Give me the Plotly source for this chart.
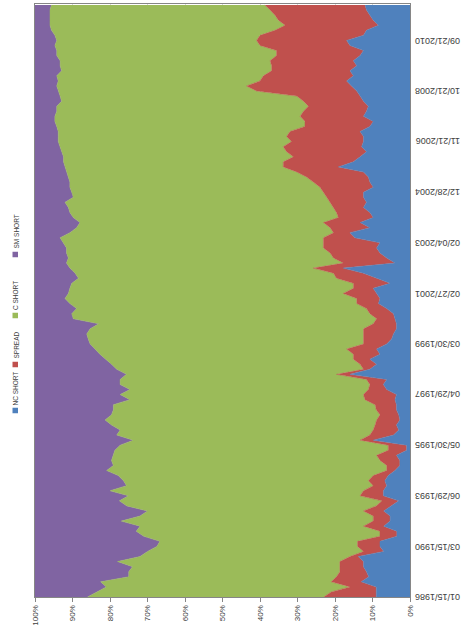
import plotly.graph_objects as go

# Category positions (every 10th weekly observation, bottom = oldest)
obs_index = list(range(0, 1180, 10))

nc_short = [9, 9, 9, 13, 11, 11.6, 12.4, 12.4, 13.8, 7, 8, 8, 3.5, 3.5, 7, 5.3, 5.3, 7, 5, 3,
            7.1, 7.1, 6.2, 6.7, 5.8, 4, 2.7, 2.7, 3.6, 0.9, 0.9, 9.8, 4.4, 3, 3.6, 2.7, 3, 3.6, 3.6,
            4, 3.6, 6.2, 7.1, 6.2, 16, 10.7, 8.9, 10.7, 8, 8.9, 6.2, 4.9, 4.4, 3.6, 3.6, 4, 4.4, 6.2, 8.4,
            8, 8.9, 9.8, 5.3, 8.9, 12.4, 17.8, 4, 6.2, 8, 8.9, 8, 14.7, 16, 10.7, 13.3, 9.8, 10.7, 12.4, 11.6,
            12.4, 12.4, 9.8, 10.7, 11.1, 12.4, 19.1, 15.1, 13.3, 11.6, 12.9, 12.4, 12.4, 13.3, 10.7, 9.8, 12.4, 11.6, 11.1, 12.4,
            13.3, 14.2, 15.6, 16.9, 15.1, 16, 14.2, 15.1, 13.3, 12.4, 16, 16.9, 12.4, 11.6, 8.4, 9.8, 10.7, 11.6, 12]
spread = [14, 12, 7, 8, 8.6, 7.1, 6.3, 6.3, 2.2, 5.4, 6, 6, 4.5, 4.5, 5.4, 4.5, 4.5, 5.4, 4, 4.5,
          6.2, 5.3, 3.6, 4.4, 4, 2.2, 3.5, 5.3, 5.3, 4.9, 4.9, 3.5, 6.3, 6.8, 5.7, 6.2, 5, 5.4, 5.7,
          8, 8.8, 4.9, 3.6, 5.4, 3.6, 1.7, 4.4, 4.4, 7.1, 8, 6.2, 7.5, 8, 8.8, 6.2, 4.9, 6.3, 5.4, 5.8,
          6.2, 8.9, 5.3, 9.8, 10.7, 8, 8, 13.8, 14.2, 13.3, 14.2, 15.1, 8.4, 4.4, 10.6, 9.8, 9.3, 8.9, 8, 9.7,
          9.8, 10.7, 14.2, 15.1, 16.5, 17.8, 14.7, 18.7, 17.8, 21.3, 20.9, 19.2, 20.5, 18.7, 17.3, 18.2, 16.9, 16.8, 16, 16,
          16.9, 26.7, 28, 23.1, 24, 20.9, 22.7, 22.2, 22.3, 23.2, 24, 24, 27.6, 24.4, 24.9, 25.3, 25.3, 25.7, 26.7]
c_short = [63, 62.5, 65, 61.5, 55.4, 56.3, 55.3, 59.3, 56, 57.6, 53.5, 52.7, 63, 65, 59.6, 67.2, 62.2, 57.6, 66.5, 70,
           61.8, 67.6, 65.8, 65.3, 68, 74.7, 72.9, 71.6, 70.2, 72.9, 71.5, 60.5, 67.5, 67.5, 70.3, 72.4, 71.6, 70.1, 69.8,
           62.7, 64.9, 63.6, 66.6, 65.7, 56, 65.8, 66.3, 66.2, 67.6, 67.1, 72.9, 73.4, 73.8, 72.9, 73.2, 80.9, 79.5, 77.3, 76.5,
           77.8, 73.3, 75.6, 75.1, 68.8, 68.9, 64.9, 73.8, 70.7, 70.3, 68.5, 69.3, 70.2, 70.3, 67.6, 64.9, 70.7, 71.1, 70.7, 70.7,
           67.6, 67.1, 66.7, 64.9, 63.5, 61.4, 58.2, 58.6, 61.3, 60, 59.5, 62.2, 60.9, 61.8, 66.2, 66.7, 65.4, 65.8, 67.1, 64.5,
           63.1, 52.9, 50.6, 53.8, 55.1, 56, 56.4, 56, 58.6, 58.6, 54.7, 53.3, 54.7, 59.6, 62.7, 60.9, 60, 58.7, 56.9]
sm_short = [14, 16.5, 19, 17.5, 25, 25, 26, 22, 28, 30, 32.5, 33.3, 29, 27, 28, 23, 28, 30, 24.5, 22.5,
            24.9, 20, 24.4, 23.6, 22.2, 19.1, 20.9, 20.4, 20.9, 21.3, 22.7, 26.2, 21.8, 22.7, 20.4, 18.7, 20.4, 20.9, 20.9,
            25.3, 22.7, 25.3, 22.7, 22.7, 24.4, 21.8, 20.4, 18.7, 17.3, 16, 14.7, 14.2, 13.8, 14.7, 17, 10.2, 9.8, 11.1, 9.3,
            8, 8.9, 9.3, 9.8, 11.6, 10.7, 9.3, 8.4, 8.9, 8.4, 8.4, 7.6, 6.7, 9.3, 11.1, 12, 10.2, 9.3, 8.9, 8,
            10.2, 9.8, 9.3, 9.3, 8.9, 8.4, 8, 7.6, 7.6, 7.1, 6.7, 6.2, 6.2, 6.2, 5.8, 5.3, 5.3, 5.8, 5.8, 7.1,
            6.7, 6.2, 5.8, 6.2, 5.8, 7.1, 6.7, 6.7, 5.8, 5.8, 5.3, 5.8, 5.3, 4.4, 4, 4, 4, 4, 4.4]

date_tick_pos = [0, 100, 200, 300, 400, 500, 600, 700, 800, 900, 1000, 1100]
date_tick_labels = ["01/15/1986", "03/15/1990", "06/29/1993", "05/30/1995", "04/29/1997", "03/30/1999",
                    "02/27/2001", "02/04/2003", "12/28/2004", "11/21/2006", "10/21/2008", "09/21/2010"]
pct_ticks = [0, 10, 20, 30, 40, 50, 60, 70, 80, 90, 100]
pct_labels = [f"{v}%" for v in pct_ticks]

series = [("NC SHORT", nc_short, "#4F81BD"),
          ("SPREAD", spread, "#C0504D"),
          ("C SHORT", c_short, "#9BBB59"),
          ("SM SHORT", sm_short, "#8064A2")]

fig = go.Figure()
for name, vals, col in series:
    fig.add_trace(go.Scatter(x=vals, y=obs_index, name=name, mode="lines",
                             stackgroup="one", orientation="h", groupnorm="percent",
                             line=dict(width=0.5, color=col), fillcolor=col,
                             showlegend=False, hoverinfo="skip"))

W, H = 462, 625
L, R, T, B = 35, 52, 4, 28
pw, ph = W - L - R, H - T - B
TXT = "#404040"

fig.update_layout(
    width=W, height=H,
    margin=dict(l=L, r=R, t=T, b=B, autoexpand=False),
    paper_bgcolor="white", plot_bgcolor="white",
    font=dict(family="Liberation Sans, Arial, sans-serif", size=8, color=TXT),
)
fig.update_xaxes(range=[100, 0], tickvals=pct_ticks, ticktext=pct_labels, tickangle=-90,
                 ticks="outside", ticklen=4, tickcolor="#868686", automargin=False,
                 tickfont=dict(size=8, color=TXT),
                 showline=True, linecolor="#868686", mirror=True,
                 showgrid=True, gridcolor="#D9D9D9", zeroline=False)
fig.update_yaxes(range=[0, 1172], tickvals=date_tick_pos, showticklabels=False,
                 side="right", ticks="", automargin=False,
                 showline=True, linecolor="#868686", mirror=True,
                 showgrid=False, zeroline=False)

# Date category labels, upside down to the right of the 0% axis
for pos, lab in zip(date_tick_pos, date_tick_labels):
    fig.add_annotation(text=lab, xref="paper", yref="y", x=(437.5 - L) / pw, y=pos,
                       textangle=180, xanchor="center", yanchor="middle", showarrow=False,
                       font=dict(size=9, color=TXT))

# Legend drawn as rotated text (reads bottom-to-top) with colour swatches
legend_marker_y = [410.5, 364.5, 315.5, 254.5]
legend_text_y = [389, 345, 295.5, 232]
for (name, vals, col), my, ty in zip(series, legend_marker_y, legend_text_y):
    fig.add_shape(type="rect", xref="paper", yref="paper",
                  x0=(12.5 - L) / pw, x1=(18 - L) / pw,
                  y0=(H - B - (my + 2.75)) / ph, y1=(H - B - (my - 2.75)) / ph,
                  fillcolor=col, line=dict(width=0))
    fig.add_annotation(text=name, xref="paper", yref="paper",
                       x=(15.5 - L) / pw, y=(H - B - ty) / ph, textangle=-90,
                       xanchor="center", yanchor="middle", showarrow=False,
                       font=dict(family="Liberation Sans, Arial", size=6.5, color=TXT))

fig.write_html("out.html", config={"displayModeBar": False},
               post_script="document.body.style.margin='0';document.body.style.overflow='hidden';")
